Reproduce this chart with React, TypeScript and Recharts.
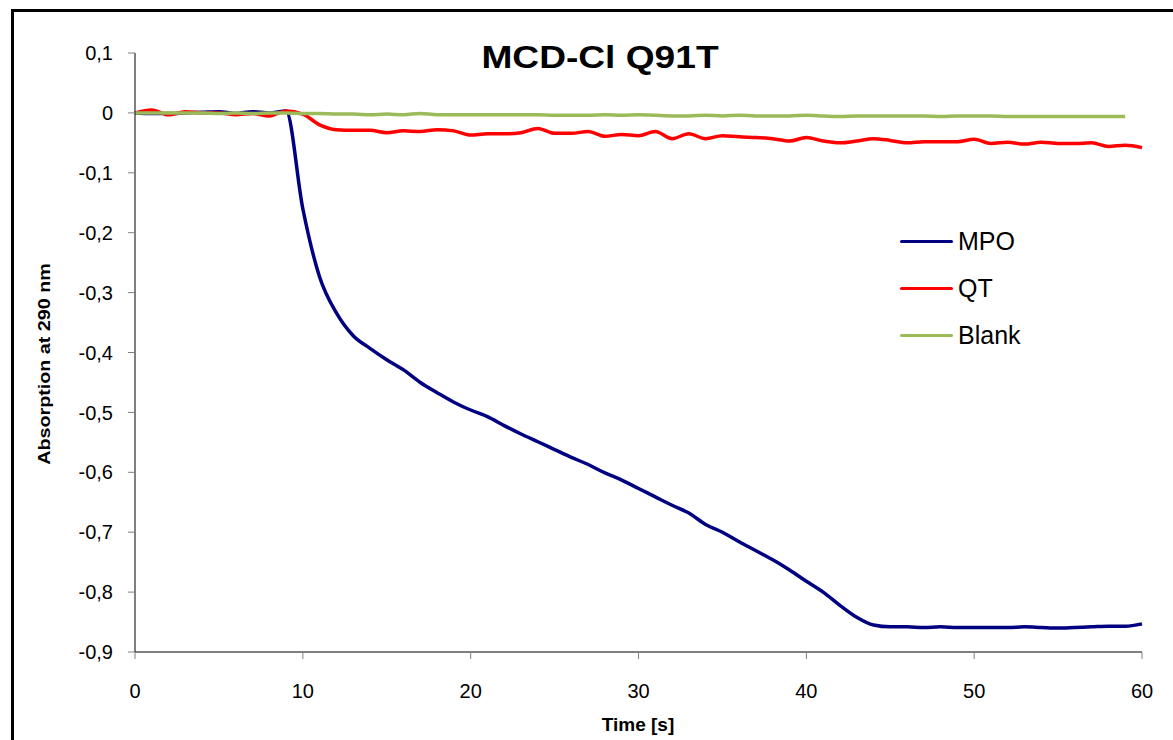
import { LineChart, Line, XAxis, YAxis } from 'recharts';

const time = [
  0, 1, 2, 3, 4, 5, 6, 7, 8, 9, 10, 11, 12, 13, 14, 15, 16, 17, 18, 19, 20,
  21, 22, 23, 24, 25, 26, 27, 28, 29, 30, 31, 32, 33, 34, 35, 36, 37, 38, 39, 40,
  41, 42, 43, 44, 45, 46, 47, 48, 49, 50, 51, 52, 53, 54, 55, 56, 57, 58, 59, 60,
];

const mpo = [
  0, -0.001, -0.001, 0, 0.001, 0.002, -0.001, 0.002, 0, 0.003, -0.16,
  -0.274, -0.334, -0.372, -0.393, -0.412, -0.429, -0.45, -0.467, -0.483, -0.496,
  -0.507, -0.522, -0.536, -0.549, -0.562, -0.575, -0.587, -0.601, -0.613, -0.627,
  -0.641, -0.655, -0.668, -0.687, -0.7, -0.716, -0.731, -0.746, -0.763, -0.782,
  -0.8, -0.822, -0.842, -0.855, -0.858, -0.858, -0.859, -0.858, -0.859, -0.859,
  -0.859, -0.859, -0.858, -0.859, -0.86, -0.859, -0.858, -0.857, -0.857, -0.853,
];

const qt = [
  0, 0.005, -0.003, 0.002, 0, 0, -0.003, -0.001, -0.005, 0.003, -0.002,
  -0.02, -0.028, -0.029, -0.029, -0.033, -0.03, -0.031, -0.028, -0.03, -0.037,
  -0.035, -0.035, -0.033, -0.026, -0.034, -0.034, -0.031, -0.039, -0.036, -0.038,
  -0.031, -0.043, -0.035, -0.043, -0.038, -0.04, -0.041, -0.043, -0.047, -0.041,
  -0.047, -0.05, -0.047, -0.043, -0.046, -0.05, -0.048, -0.048, -0.048, -0.044,
  -0.051, -0.049, -0.052, -0.049, -0.051, -0.051, -0.05, -0.056, -0.054, -0.058,
];

// blank run stops at 59 s
const blank = [
  0, 0, 0, 0, 0, -0.001, 0, -0.001, 0, 0, -0.001,
  -0.001, -0.002, -0.002, -0.003, -0.002, -0.003, -0.001, -0.003, -0.003, -0.003,
  -0.003, -0.003, -0.003, -0.003, -0.004, -0.004, -0.004, -0.003, -0.004, -0.003,
  -0.004, -0.005, -0.005, -0.004, -0.005, -0.004, -0.005, -0.005, -0.005, -0.004,
  -0.005, -0.006, -0.005, -0.005, -0.005, -0.005, -0.005, -0.006, -0.005, -0.005,
  -0.005, -0.006, -0.006, -0.006, -0.006, -0.006, -0.006, -0.006, -0.006, null,
];

const xTicks = [0, 10, 20, 30, 40, 50, 60];
const yTicks = [0.1, 0, -0.1, -0.2, -0.3, -0.4, -0.5, -0.6, -0.7, -0.8, -0.9];

const seriesNames = ['MPO', 'QT', 'Blank'];
const seriesColors = ['#000080', '#ff0000', '#9bbb59'];

const data = time.map((t, i) => ({ t, MPO: mpo[i], QT: qt[i], Blank: blank[i] }));

const font = 'Arial, "Liberation Sans", sans-serif';

const fmtY = (v: number) => (Math.abs(v) < 1e-9 ? '0' : v.toFixed(1).replace('.', ','));

export default function App() {
  return (
    <div
      style={{
        position: 'absolute',
        left: 0,
        top: 0,
        width: 1173,
        height: 740,
        overflow: 'hidden',
        background: '#fff',
        fontFamily: font,
      }}
    >
      <div
        style={{
          position: 'absolute',
          left: 11,
          top: 9,
          width: 1200,
          height: 800,
          border: '3px solid #000',
        }}
      />
      <LineChart
        width={1173}
        height={740}
        data={data}
        margin={{ top: 53, right: 31, bottom: 48, left: 55 }}
        style={{ position: 'absolute', left: 0, top: 0 }}
      >
        <XAxis
          dataKey="t"
          type="number"
          domain={[0, 60]}
          ticks={xTicks}
          height={40}
          tickSize={7}
          tickMargin={25}
          stroke="#000"
          tickLine={{ stroke: '#808080' }}
          tick={{ fill: '#000', fontSize: 20, fontFamily: font }}
        />
        <YAxis
          type="number"
          domain={[-0.9, 0.1]}
          ticks={yTicks}
          width={80}
          tickSize={7}
          tickMargin={15}
          stroke="#000"
          tickLine={{ stroke: '#808080' }}
          tickFormatter={fmtY}
          tick={{ fill: '#000', fontSize: 20, fontFamily: font }}
        />
        {seriesNames.map((name, i) => (
          <Line
            key={name}
            type="monotone"
            dataKey={name}
            stroke={seriesColors[i]}
            strokeWidth={3.5}
            dot={false}
            isAnimationActive={false}
          />
        ))}
      </LineChart>
      <div style={{ position: 'absolute', left: 600, top: 57, width: 0, height: 0 }}>
        <div
          style={{
            position: 'absolute',
            transform: 'translate(-50%, -50%) scaleX(1.16)',
            whiteSpace: 'nowrap',
            fontSize: 32,
            fontWeight: 'bold',
          }}
        >
          MCD-Cl Q91T
        </div>
      </div>
      <div
        style={{
          position: 'absolute',
          left: 438,
          top: 714,
          width: 400,
          textAlign: 'center',
          fontSize: 19,
          fontWeight: 'bold',
        }}
      >
        Time [s]
      </div>
      <div style={{ position: 'absolute', left: 45, top: 364, width: 0, height: 0 }}>
        <div
          style={{
            position: 'absolute',
            transform: 'translate(-50%, -50%) rotate(-90deg) scaleX(1.16)',
            whiteSpace: 'nowrap',
            fontSize: 17,
            fontWeight: 'bold',
          }}
        >
          Absorption at 290 nm
        </div>
      </div>
      <div style={{ position: 'absolute', left: 900, top: 218 }}>
        {seriesNames.map((name, i) => (
          <div key={name} style={{ display: 'flex', alignItems: 'center', height: 47 }}>
            <div style={{ width: 53, height: 3.5, background: seriesColors[i], borderRadius: 2 }} />
            <span style={{ marginLeft: 5, fontSize: 25 }}>{name}</span>
          </div>
        ))}
      </div>
    </div>
  );
}
